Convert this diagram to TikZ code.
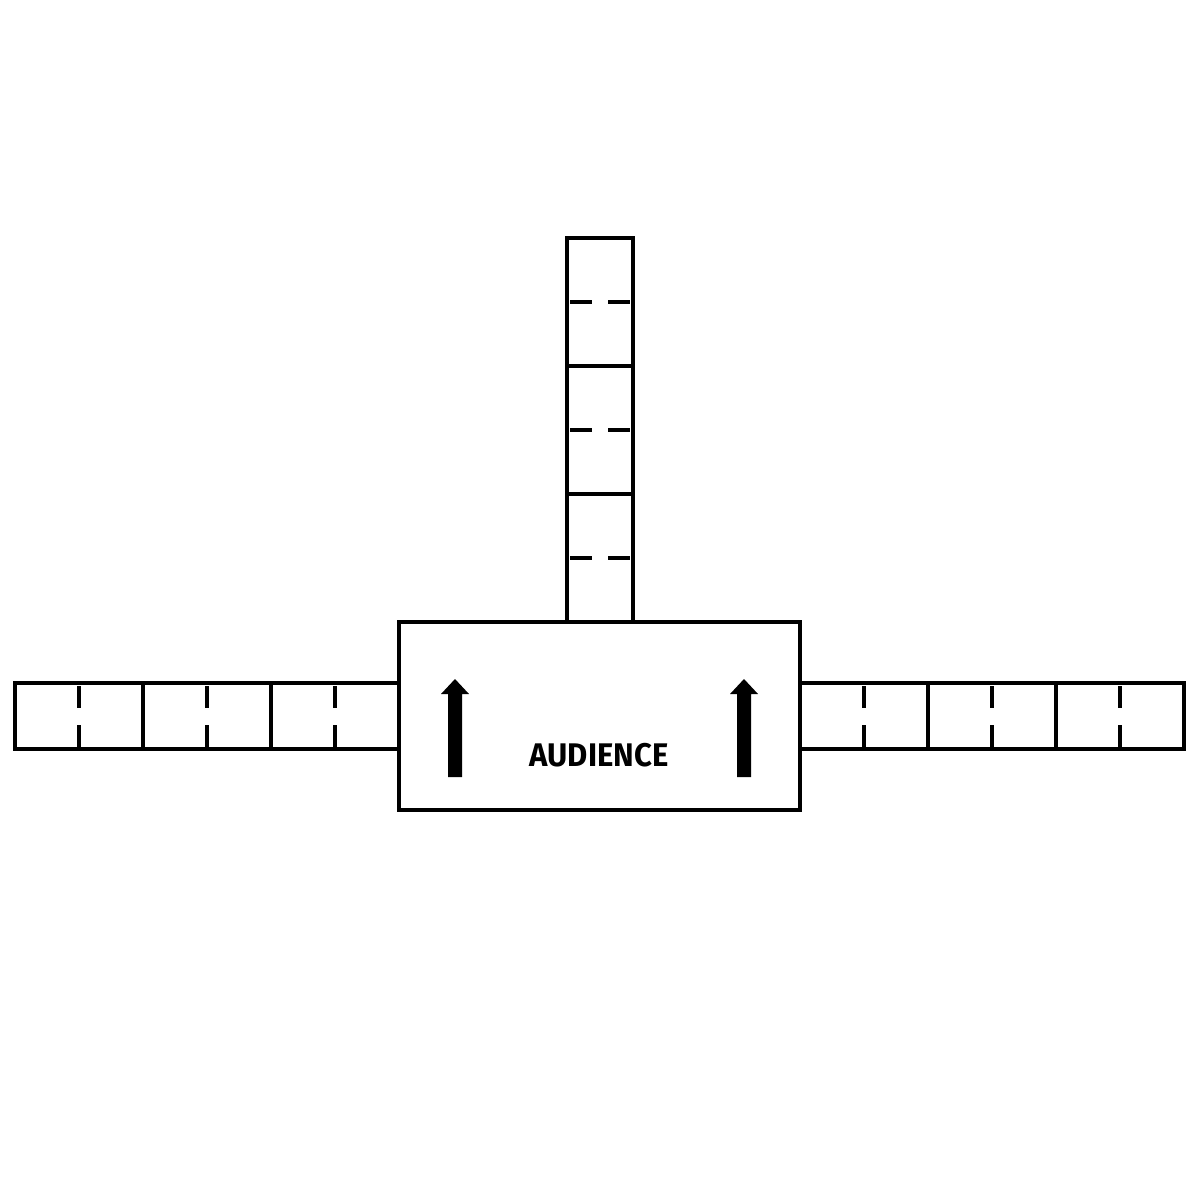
\documentclass[tikz,border=0pt]{standalone}
\usepackage{fontspec}
\setmainfont{Fira Sans}
\newfontfamily\audfont[FakeStretch=0.95]{Fira Sans}
\begin{document}
\begin{tikzpicture}[x=0.01cm,y=-0.01cm,line width=0.032cm]
	\useasboundingbox (0,0) rectangle (1200,1200);
	% audience block
	\draw (399,622) rectangle (800,810);
	\node [inner sep=0, font=\audfont\bfseries\fontsize{9.3}{11}\selectfont] (audience) at (599,755) {AUDIENCE};
	\fill (448,777) -- (448,694) -- (441,694) -- (455,679) -- (469,694) -- (462,694) -- (462,777) -- cycle;
	\fill (737,777) -- (737,694) -- (730,694) -- (744,679) -- (758,694) -- (751,694) -- (751,777) -- cycle;
	% top column
	\foreach \y in {238,366,494} {
		\draw (567,\y) rectangle (633,\y+128);
		\draw [line width=0.045cm] (570,\y+64) -- (592,\y+64);
		\draw [line width=0.045cm] (608,\y+64) -- (630,\y+64);
	}
	% left and right rows
	\foreach \x in {15,143,271,800,928,1056} {
		\draw (\x,683) rectangle (\x+128,749);
		\draw [line width=0.045cm] (\x+64,686) -- (\x+64,708);
		\draw [line width=0.045cm] (\x+64,725) -- (\x+64,747);
	}
\end{tikzpicture}
\end{document}
